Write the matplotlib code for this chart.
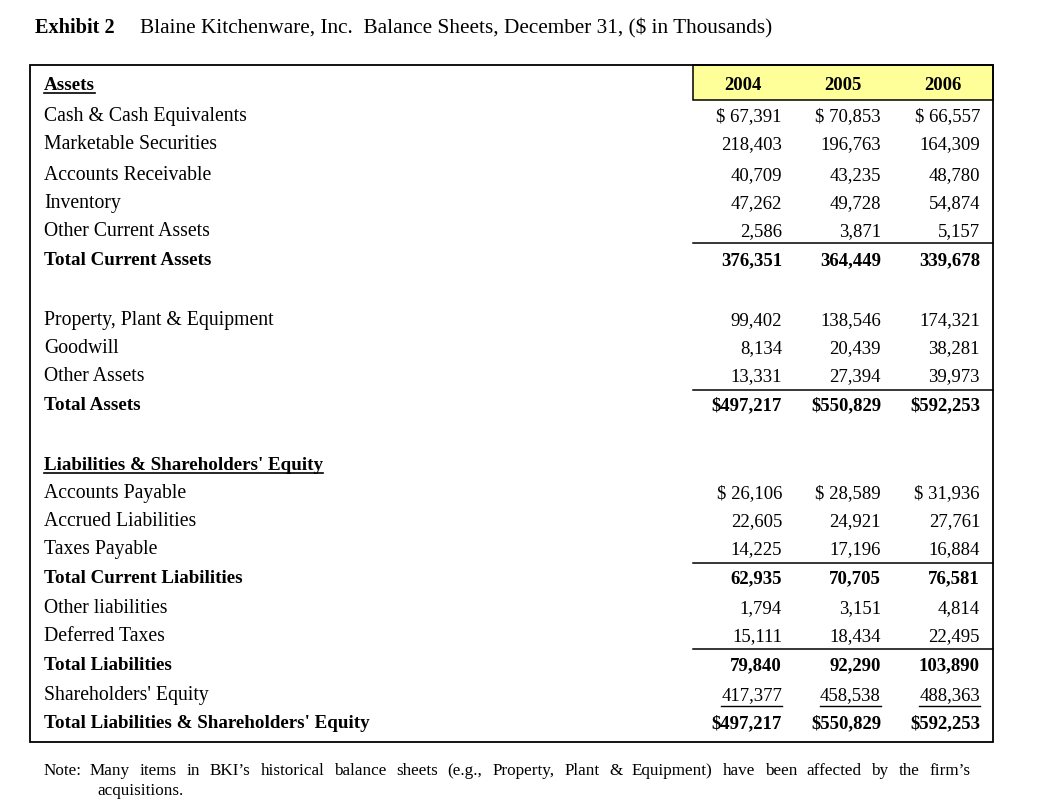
import matplotlib
matplotlib.use('Agg')
import matplotlib.pyplot as plt
from matplotlib.patches import Rectangle

# ---------------- data ----------------
years = ['2004', '2005', '2006']

cash = [67391, 70853, 66557]
marketable = [218403, 196763, 164309]
receivable = [40709, 43235, 48780]
inventory = [47262, 49728, 54874]
other_current = [2586, 3871, 5157]
total_current_assets = [376351, 364449, 339678]
ppe = [99402, 138546, 174321]
goodwill = [8134, 20439, 38281]
other_assets = [13331, 27394, 39973]
total_assets = [497217, 550829, 592253]
payable = [26106, 28589, 31936]
accrued = [22605, 24921, 27761]
taxes = [14225, 17196, 16884]
total_current_liab = [62935, 70705, 76581]
other_liab = [1794, 3151, 4814]
deferred = [15111, 18434, 22495]
total_liab = [79840, 92290, 103890]
equity = [417377, 458538, 488363]
total_le = [497217, 550829, 592253]

title_bold = 'Exhibit 2'
title_rest = 'Blaine Kitchenware, Inc.  Balance Sheets, December 31, ($ in Thousands)'
note_label = 'Note:'
note_line1 = "Many items in BKI\u2019s historical balance sheets (e.g., Property, Plant & Equipment) have been affected by the firm\u2019s"
note_line2 = 'acquisitions.'

# rows: (label, values, bold, dollar_style, y_center)
# dollar_style: 0 none, 1 "$ 12,345", 2 "$123,456"
rows = [
    ('Cash & Cash Equivalents', cash, False, 1, 116),
    ('Marketable Securities', marketable, False, 0, 144),
    ('Accounts Receivable', receivable, False, 0, 175),
    ('Inventory', inventory, False, 0, 203),
    ('Other Current Assets', other_current, False, 0, 231),
    ('Total Current Assets', total_current_assets, True, 0, 260),
    ('Property, Plant & Equipment', ppe, False, 0, 320),
    ('Goodwill', goodwill, False, 0, 348),
    ('Other Assets', other_assets, False, 0, 376),
    ('Total Assets', total_assets, True, 2, 405),
    ('Accounts Payable', payable, False, 1, 493),
    ('Accrued Liabilities', accrued, False, 0, 521),
    ('Taxes Payable', taxes, False, 0, 549),
    ('Total Current Liabilities', total_current_liab, True, 0, 578),
    ('Other liabilities', other_liab, False, 0, 608),
    ('Deferred Taxes', deferred, False, 0, 636),
    ('Total Liabilities', total_liab, True, 0, 665),
    ("Shareholders' Equity", equity, False, 0, 695),
    ("Total Liabilities & Shareholders' Equity", total_le, True, 2, 723),
]

# ---------------- figure ----------------
W, H = 1037, 805
fig = plt.figure(figsize=(W / 100, H / 100), dpi=100)
ax = fig.add_axes([0, 0, 1, 1])
ax.set_xlim(0, W)
ax.set_ylim(H, 0)
ax.axis('off')
fig.canvas.draw()
renderer = fig.canvas.get_renderer()

FONT = 'Liberation Serif'
FS = 13.5      # numbers
LFS = 14.2     # regular row labels
BFS = 13.7     # bold row labels
BASE = 5       # baseline offset from row centre


def width_of(t):
    bb = t.get_window_extent(renderer=renderer)
    return bb.width


def fmt(v, style):
    s = f'{v:,}'
    if style == 1:
        return '$ ' + s
    if style == 2:
        return '$' + s
    return s


# title
ax.text(35, 33, title_bold, fontsize=14.6, fontweight='bold', family=FONT, va='baseline', ha='left')
ax.text(140, 33, title_rest, fontsize=15.3, family=FONT, va='baseline', ha='left')

# table frame
ax.add_patch(Rectangle((30, 65), 963, 677, fill=False, lw=1.3, ec='black', zorder=3))
ax.add_patch(Rectangle((693, 65), 300, 35, fc='#FFFF99', ec='black', lw=1.1, zorder=2))

col_right = [782, 881, 980]
col_center = [743, 843, 943]
for cx, yr in zip(col_center, years):
    ax.text(cx, 85 + BASE, yr, fontsize=FS, fontweight='bold', family=FONT, ha='center', va='baseline', zorder=4)

# section headers with underline
for label, yc in [('Assets', 85), ("Liabilities & Shareholders' Equity", 465)]:
    t = ax.text(44, yc + BASE, label, fontsize=BFS, fontweight='bold', family=FONT, ha='left', va='baseline')
    w = width_of(t)
    ax.plot([44, 44 + w], [yc + BASE + 3, yc + BASE + 3], color='black', lw=1.2)

for label, vals, bold, style, yc in rows:
    fw = 'bold' if bold else 'normal'
    ax.text(44, yc + BASE, label, fontsize=BFS if bold else LFS, fontweight=fw, family=FONT,
            ha='left', va='baseline')
    for xr, v in zip(col_right, vals):
        t = ax.text(xr, yc + BASE, fmt(v, style), fontsize=FS, fontweight=fw, family=FONT,
                    ha='right', va='baseline')
        if vals is equity:
            w = width_of(t)
            ax.plot([xr - w, xr], [yc + BASE + 6, yc + BASE + 6], color='black', lw=1.0)

# separator lines above totals
for y in [243, 390, 563, 649]:
    ax.plot([693, 993], [y, y], color='black', lw=1.1)

# note (justified first line)
NFS = 12.3
ax.text(44, 775, note_label, fontsize=NFS, family=FONT, ha='left', va='baseline')
words = note_line1.split(' ')
objs = [ax.text(0, 775, w_, fontsize=NFS, family=FONT, ha='left', va='baseline') for w_ in words]
widths = [width_of(o) for o in objs]
x0, x1 = 90, 970
gap = (x1 - x0 - sum(widths)) / (len(words) - 1)
x = x0
for o, w_ in zip(objs, widths):
    o.set_x(x)
    x += w_ + gap
ax.text(97, 795, note_line2, fontsize=NFS, family=FONT, ha='left', va='baseline')

fig.savefig('out.png', dpi=100, facecolor='white')
